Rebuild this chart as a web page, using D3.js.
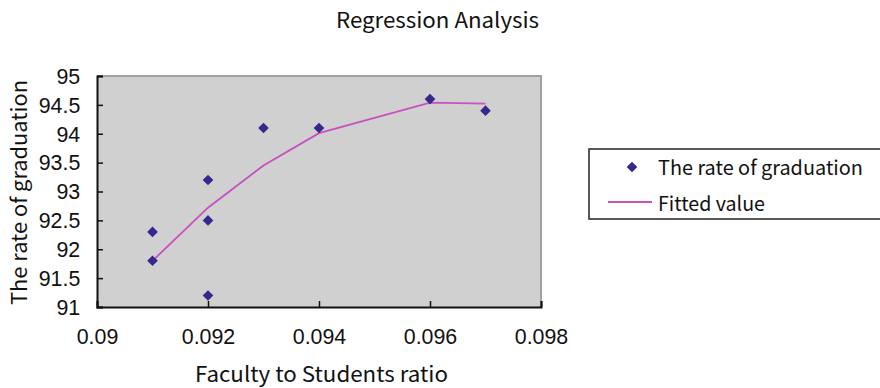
<!DOCTYPE html>
<html>
<head>
<meta charset="utf-8">
<script src="https://cdn.jsdelivr.net/npm/d3@7"></script>
<style>
  body { margin: 0; background: #fff; }
  svg { display: block; }
  .lbl { font-family: "Noto Sans CJK JP", sans-serif; fill: #111; }
  .tick text { font-family: "Liberation Sans", Arial, sans-serif; fill: #111; }
</style>
</head>
<body>
<svg></svg>
<script>
// observed values
var ratio = [0.091, 0.091, 0.092, 0.092, 0.092, 0.093, 0.094, 0.096, 0.097];
var gradRate = [92.3, 91.8, 93.2, 92.5, 91.2, 94.1, 94.1, 94.6, 94.4];

// fitted curve
var fitRatio = [0.091, 0.092, 0.093, 0.094, 0.096, 0.097];
var fitValue = [91.8, 92.72, 93.45, 94.01, 94.54, 94.52];

var xTicks = [0.09, 0.092, 0.094, 0.096, 0.098];
var yTicks = [91, 91.5, 92, 92.5, 93, 93.5, 94, 94.5, 95];

var W = 880, H = 388;
var plot = {left: 97, top: 76, right: 541, bottom: 307};

var svg = d3.select("svg")
   .attr("width", W)
   .attr("height", H);

var x = d3.scaleLinear()
   .domain([0.09, 0.098])
   .range([plot.left, plot.right]);

var y = d3.scaleLinear()
   .domain([91, 95])
   .range([plot.bottom, plot.top]);

// plot area
svg.append("rect")
   .attr("x", plot.left)
   .attr("y", plot.top)
   .attr("width", plot.right - plot.left)
   .attr("height", plot.bottom - plot.top)
   .style("fill", "#d0d0d0");

svg.append("path")
   .attr("d", "M" + plot.left + "," + plot.top + "H" + plot.right + "V" + plot.bottom)
   .style("fill", "none")
   .style("stroke", "#a0a0a0")
   .style("stroke-width", 2);

// axes, ticks inside
var xAxis = svg.append("g")
   .attr("transform", "translate(0," + plot.bottom + ")")
   .call(d3.axisBottom(x).tickValues(xTicks).tickSize(-6).tickPadding(21)
      .tickFormat(function(d){ return d3.format(".3f")(d).replace(/0$/, ""); }));

var yAxis = svg.append("g")
   .attr("transform", "translate(" + plot.left + ",0)")
   .call(d3.axisLeft(y).tickValues(yTicks).tickSize(-6).tickPadding(18)
      .tickFormat(function(d){ return d3.format("")(d); }));

[xAxis, yAxis].forEach(function(a){
   a.select(".domain").style("stroke", "#111").style("stroke-width", 2);
   a.selectAll(".tick line").style("stroke", "#111").style("stroke-width", 1.5);
   // tall, slightly narrow digits as in the original
   a.selectAll(".tick text")
      .style("font-size", "23px")
      .attr("transform", "scale(0.93,1)");
});

// fitted line
var line = d3.line()
   .x(function(d){ return x(d[0]); })
   .y(function(d){ return y(d[1]); });

svg.append("path")
   .datum(d3.zip(fitRatio, fitValue))
   .attr("d", line)
   .style("fill", "none")
   .style("stroke", "#c850c0")
   .style("stroke-width", 1.8);

// points
var diamond = d3.symbol().type(d3.symbolDiamond2).size(72);

svg.append("g")
   .selectAll("path")
   .data(d3.zip(ratio, gradRate))
   .enter().append("path")
   .attr("d", diamond)
   .attr("transform", function(d){ return "translate(" + x(d[0]) + "," + y(d[1]) + ")"; })
   .style("fill", "#35288c");

// titles
function label(txt, len) {
   return svg.append("text")
      .attr("class", "lbl")
      .attr("textLength", len)
      .attr("lengthAdjust", "spacingAndGlyphs")
      .style("font-size", "21px")
      .text(txt);
}

label("Regression Analysis", 203)
   .attr("x", 336)
   .attr("y", 28);

label("Faculty to Students ratio", 253)
   .attr("x", 195)
   .attr("y", 382);

label("The rate of graduation", 225)
   .attr("transform", "translate(27,305) rotate(-90)");

// legend
var legend = svg.append("g");

legend.append("rect")
   .attr("x", 589)
   .attr("y", 149)
   .attr("width", 300)
   .attr("height", 70)
   .style("fill", "#fff")
   .style("stroke", "#222")
   .style("stroke-width", 1.5);

legend.append("path")
   .attr("d", diamond)
   .attr("transform", "translate(632,167)")
   .style("fill", "#35288c");

legend.append("line")
   .attr("x1", 608).attr("x2", 652)
   .attr("y1", 202).attr("y2", 202)
   .style("stroke", "#c850c0")
   .style("stroke-width", 1.8);

label("The rate of graduation", 205)
   .attr("x", 658)
   .attr("y", 175)
   .style("font-size", "20px");

label("Fitted value", 107)
   .attr("x", 658)
   .attr("y", 211)
   .style("font-size", "20px");
</script>
</body>
</html>
